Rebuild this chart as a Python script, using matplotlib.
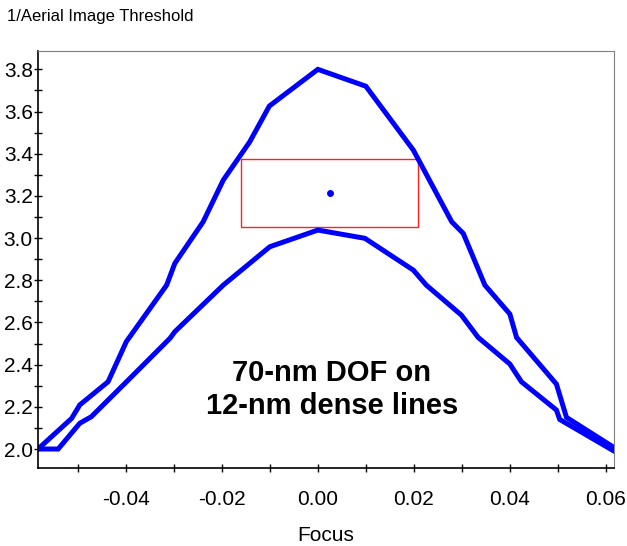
import matplotlib.pyplot as plt
from matplotlib.ticker import MultipleLocator
from matplotlib.patches import Rectangle

plt.rcParams['font.family'] = ['Liberation Sans', 'DejaVu Sans']

# outer curve (upper branch)
outer_x = [-0.0583, -0.0513, -0.0496, -0.0437, -0.0399, -0.0315, -0.0298, -0.0239,
           -0.0197, -0.0142, -0.0101, 0.0, 0.0100, 0.0199, 0.0279, 0.0303, 0.0348,
           0.0400, 0.0414, 0.0497, 0.0518, 0.0615]
outer_y = [2.000, 2.145, 2.209, 2.319, 2.509, 2.777, 2.880, 3.077,
           3.275, 3.456, 3.626, 3.800, 3.720, 3.417, 3.077, 3.022, 2.777,
           2.640, 2.529, 2.308, 2.150, 2.010]

# inner curve (lower branch)
inner_x = [-0.0583, -0.0541, -0.0496, -0.0472, -0.0395, -0.0308, -0.0298, -0.0197,
           -0.0100, 0.0, 0.0098, 0.0199, 0.0226, 0.0299, 0.0334, 0.0400, 0.0424,
           0.0497, 0.0504, 0.0615]
inner_y = [2.000, 2.000, 2.122, 2.153, 2.327, 2.525, 2.556, 2.777,
           2.959, 3.038, 2.999, 2.848, 2.777, 2.635, 2.529, 2.403, 2.319,
           2.185, 2.140, 1.993]

# process window box and its center
box_x = [-0.0160, 0.0209]
box_y = [3.052, 3.373]
center = (0.0025, 3.212)

fig = plt.figure(figsize=(6.27, 5.46), dpi=100)
ax = fig.add_axes([38 / 627, 1 - 468 / 546, (614 - 38) / 627, (468 - 51) / 546])

ax.plot(outer_x, outer_y, color='#0000ff', lw=3.6, solid_joinstyle='miter')
ax.plot(inner_x, inner_y, color='#0000ff', lw=3.6, solid_joinstyle='miter')
ax.add_patch(Rectangle((box_x[0], box_y[0]), box_x[1] - box_x[0], box_y[1] - box_y[0],
                       fill=False, edgecolor='#ff2020', lw=1.0))
ax.plot(*center, 'o', color='#0000ff', ms=4)

ax.text(0.0029, 2.282, '70-nm DOF on\n12-nm dense lines', ha='center', va='center',
        fontsize=21, fontweight='bold', linespacing=1.2)

ax.set_xlim(-0.0583, 0.0617)
ax.set_ylim(1.91, 3.887)
ax.xaxis.set_major_locator(MultipleLocator(0.02))
ax.xaxis.set_minor_locator(MultipleLocator(0.01))
ax.yaxis.set_major_locator(MultipleLocator(0.2))
ax.yaxis.set_minor_locator(MultipleLocator(0.1))
ax.xaxis.set_major_formatter(plt.FuncFormatter(lambda v, p: f'{v:.2f}'))
ax.yaxis.set_major_formatter(plt.FuncFormatter(lambda v, p: f'{v:.1f}'))
ax.tick_params(axis='both', which='both', labelsize=15, length=5.5, width=1, direction='inout')
ax.tick_params(axis='x', pad=13)
ax.tick_params(axis='y', pad=1)

for s in ['top', 'right']:
    ax.spines[s].set_color('#808080')
ax.spines['left'].set_linewidth(1.2)
ax.spines['bottom'].set_linewidth(1.2)

ax.set_xlabel('Focus', fontsize=15, labelpad=12)
fig.text(7 / 627, 1 - 16 / 546, '1/Aerial Image Threshold', fontsize=12, va='center', ha='left')

fig.savefig('out.png', dpi=100)
